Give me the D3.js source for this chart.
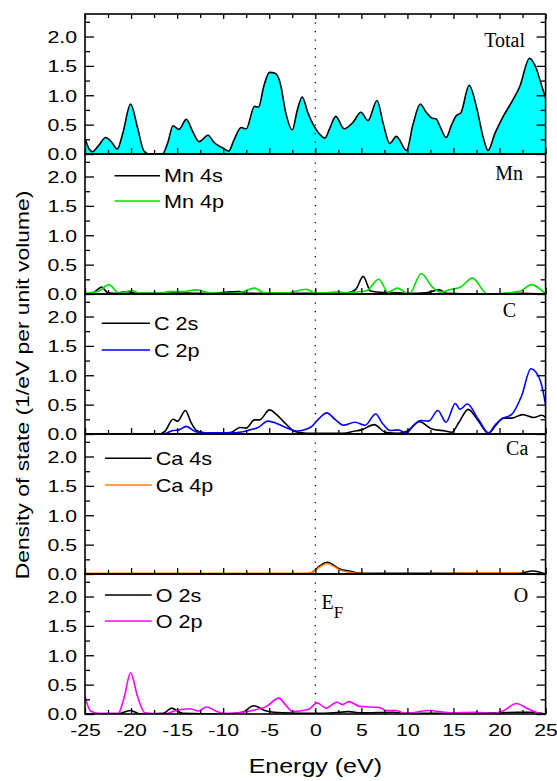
<!DOCTYPE html>
<html>
<head>
<meta charset="utf-8">
<script src="https://cdn.jsdelivr.net/npm/d3@7"></script>
<style>
  body { margin: 0; background: #fff; }
  svg { display: block; }
</style>
</head>
<body>
<svg id="chart" width="557" height="781"></svg>
<script>
// ---- tick values ----
const energyTicks = [-25, -20, -15, -10, -5, 0, 5, 10, 15, 20, 25];
const energyMinorTicks = [-22.5, -17.5, -12.5, -7.5, -2.5, 2.5, 7.5, 12.5, 17.5, 22.5];
const dosTicks = [0, 0.5, 1.0, 1.5, 2.0];
const dosMinorTicks = [0.25, 0.75, 1.25, 1.75, 2.25];

// ---- density of states, [energy (eV), DOS] ----
const totalDos = [[-25,0.27],[-24.6,0.1],[-24.2,0.04],[-23.5,0.15],[-22.75,0.28],[-22.1,0.2],[-21.5,0.085],
  [-20.9,0.35],[-20.05,0.85],[-19.3,0.45],[-18.6,0.05],[-18,0.0],[-16.6,0.0],[-16.0,0.2],[-15.45,0.48],
  [-14.8,0.42],[-14.0,0.59],[-13.3,0.38],[-12.6,0.21],[-11.65,0.32],[-11.0,0.2],[-10.6,0.15],[-10.0,0.1],
  [-9.4,0.05],[-8.8,0.25],[-8.05,0.45],[-7.5,0.43],[-6.6,0.81],[-6.15,0.80],[-5.6,1.15],[-4.97,1.39],
  [-4.3,1.37],[-3.8,1.2],[-3.2,0.7],[-2.5,0.41],[-1.95,0.75],[-1.42,0.97],[-0.8,0.7],[-0.22,0.5],
  [0.4,0.35],[1.03,0.27],[1.6,0.45],[2.22,0.64],[3.13,0.43],[4.1,0.54],[4.95,0.71],[5.73,0.57],
  [6.7,0.91],[7.4,0.5],[8.08,0.18],[8.8,0.30],[9.9,0.06],[10.6,0.5],[11.4,0.85],[12.0,0.72],[12.7,0.61],
  [13.1,0.6],[13.6,0.45],[14.2,0.28],[14.8,0.5],[15.3,0.65],[15.8,0.7],[16.7,1.17],[17.5,0.8],[18.2,0.3],
  [18.75,0.06],[19.5,0.35],[20.4,0.64],[21.3,0.88],[22.2,1.15],[23.26,1.63],[24.0,1.45],[24.5,1.2],[25,0.95]];

const mn4s = [[-25,0],[-24,0.03],[-23.2,0.12],[-22.6,0.03],[-22,0.01],[-20.3,0.04],[-19.5,0.01],[-16,0.01],
  [-15.5,0.02],[-12,0.01],[-8.2,0.04],[-7.5,0.01],[0,0.01],[2.25,0.03],[3.5,0.02],[4.4,0.08],[5.2,0.30],
  [6.0,0.05],[7,0.03],[9,0.02],[10,0.01],[12,0.02],[13.45,0.07],[14.3,0.01],[18,0.0],[22,0.01],[25,0.0]];
const mn4p = [[-25,0.01],[-23.5,0.05],[-22.4,0.16],[-21.3,0.01],[-19.9,0.06],[-19,0.01],[-17,0.01],[-15.8,0.04],
  [-14.5,0.04],[-12.9,0.07],[-11.5,0.02],[-9,0.01],[-8,0.03],[-6.6,0.10],[-5.5,0.02],[-3,0.02],[-1.0,0.08],
  [0,0.02],[3,0.02],[5.5,0.05],[6.9,0.25],[7.9,0.03],[8.9,0.10],[10.2,0.0],[11.5,0.35],[12.7,0.12],
  [13.6,0.03],[14.5,0.07],[15.8,0.12],[17.05,0.27],[18.7,0.0],[21,0.02],[22.3,0.05],[23.45,0.16],[25,0.0]];

const c2s = [[-25,0],[-17,0],[-16.3,0.05],[-15.45,0.25],[-14.95,0.22],[-14.1,0.40],[-13.5,0.2],[-12.9,0.06],
  [-12,0.02],[-10,0.02],[-9.1,0.03],[-8.2,0.11],[-7.5,0.10],[-6.6,0.24],[-6.05,0.24],[-4.97,0.41],
  [-4.2,0.33],[-3.5,0.22],[-2.4,0.06],[-1.9,0.03],[0,0.01],[3,0.01],[4.3,0.05],[5.0,0.07],[6.4,0.16],
  [7.6,0.03],[9,0.01],[10,0.05],[11.3,0.21],[12.6,0.09],[14.1,0.05],[14.8,0.03],[15.6,0.2],[16.6,0.42],
  [17.7,0.22],[18.8,0.01],[19.6,0.15],[20.4,0.27],[21.3,0.27],[22.5,0.33],[23.7,0.28],[24.6,0.32],[25,0.28]];
const c2p = [[-25,0],[-17,0],[-16.3,0.01],[-15.45,0.06],[-14.8,0.07],[-14.0,0.13],[-13.0,0.04],[-12,0.02],
  [-9.2,0.02],[-8.2,0.03],[-7.1,0.07],[-6.2,0.11],[-5.15,0.22],[-4.2,0.18],[-3.2,0.11],[-1.9,0.05],
  [-1.0,0.08],[-0.38,0.13],[0.27,0.24],[1.25,0.36],[2.2,0.24],[3.05,0.15],[4.3,0.2],[5.4,0.15],[6.56,0.34],
  [7.3,0.18],[8.1,0.06],[8.95,0.07],[9.9,0.02],[10.7,0.15],[11.4,0.23],[12.3,0.22],[13.3,0.40],[14.2,0.2],
  [15.2,0.52],[15.7,0.42],[16.5,0.51],[17.7,0.25],[18.8,0.02],[19.6,0.17],[20.4,0.27],[21.3,0.33],
  [22.4,0.65],[23.4,1.11],[24.4,0.92],[25,0.5]];

const ca4s = [[-25,0],[-1,0.0],[-0.3,0.03],[0.5,0.14],[1.3,0.20],[2.0,0.15],[2.6,0.09],[3.7,0.05],[4.6,0.02],
  [6,0.01],[22,0.01],[23.6,0.05],[24.4,0.03],[25,0.0]];
const ca4p = [[-25,0.01],[-5,0.01],[-1,0.01],[-0.3,0.03],[0.5,0.12],[1.3,0.18],[2.0,0.13],[2.6,0.07],
  [3.7,0.03],[4.6,0.01],[10,0.0],[15,0.01],[20,0.02],[22,0.02],[23,0.0],[25,0.0]];

const o2s = [[-25,0.0],[-21.5,0.0],[-20.05,0.06],[-19,0.0],[-16.5,0.01],[-15.6,0.1],[-14.4,0.01],[-10,0.0],
  [-7.9,0.03],[-6.7,0.14],[-5.3,0.05],[-3.5,0.02],[0,0.01],[2,0.02],[3.6,0.04],[5,0.02],[8.5,0.03],
  [10,0.01],[15,0.01],[20,0.02],[22,0.03],[23.5,0.03],[25,0.0]];
const o2p = [[-25,0.30],[-24.4,0.05],[-23.5,0.01],[-21.4,0.01],[-20.8,0.25],[-20.05,0.70],[-19.3,0.3],
  [-18.5,0.02],[-16.3,0.0],[-15.1,0.06],[-13.6,0.09],[-12.7,0.05],[-11.8,0.12],[-10.8,0.05],[-9.7,0.01],
  [-7.9,0.03],[-6.8,0.06],[-5.3,0.13],[-3.96,0.27],[-3.2,0.15],[-2.45,0.04],[-1.4,0.06],[-0.7,0.08],
  [0.2,0.19],[1.17,0.1],[2.33,0.2],[2.97,0.16],[3.63,0.21],[4.8,0.13],[6.96,0.11],[7.7,0.06],[8.8,0.06],
  [9.7,0.01],[12.4,0.06],[14.5,0.02],[17.4,0.03],[19.2,0.01],[20.5,0.06],[21.8,0.18],[23.2,0.08],[24.8,0.0],[25,0.0]];

// ---- panels (top to bottom) ----
const panels = [
  { label: "Total", series: [ { name: "Total", data: totalDos, color: "#000000", fill: "#00FFFF" } ], legend: false },
  { label: "Mn", series: [ { name: "Mn 4s", data: mn4s, color: "#000000" }, { name: "Mn 4p", data: mn4p, color: "#00e000" } ], legend: true },
  { label: "C",  series: [ { name: "C 2s",  data: c2s,  color: "#000000" }, { name: "C 2p",  data: c2p,  color: "#0000ff" } ], legend: true },
  { label: "Ca", series: [ { name: "Ca 4s", data: ca4s, color: "#000000" }, { name: "Ca 4p", data: ca4p, color: "#ff8000" } ], legend: true },
  { label: "O",  series: [ { name: "O 2s",  data: o2s,  color: "#000000" }, { name: "O 2p",  data: o2p,  color: "#ff00ff" } ], legend: true }
];

// ---- layout ----
const plotLeft = 85, plotRight = 545.6, plotTop = 14, panelH = 140, yMax = 2.383;
const labelPos = [ [525, 47.3], [523, 180], [516, 316.7], [528.3, 455], [528.3, 602.3] ];   // end-anchored, panel-name text
const legendPos = [ null, [114.5, 160, 175.7, 25.3], [101.7, 150, 323.3, 26.7], [105, 151.7, 458.3, 26.7], [105, 151.7, 595, 26] ];
const sansFont = "'Liberation Sans', Arial, sans-serif";
const serifFont = "'Liberation Serif', 'Times New Roman', serif";
const sansStretch = 1.33;

const svg = d3.select("#chart");
const x = d3.scaleLinear().domain([-25, 25]).range([plotLeft, plotRight]);
const line = (y) => d3.line().x(d => x(d[0])).y(d => y(d[1])).curve(d3.curveMonotoneX);

panels.forEach((p, i) => {
  const top = plotTop + i * panelH, bottom = top + panelH;
  const y = d3.scaleLinear().domain([0, yMax]).range([bottom, top]);
  const g = svg.append("g").attr("class", "panel");

  const clipId = "clip" + i;
  svg.append("clipPath").attr("id", clipId).append("rect")
    .attr("x", plotLeft).attr("y", top).attr("width", plotRight - plotLeft).attr("height", panelH);

  const data = g.append("g").attr("clip-path", `url(#${clipId})`);
  p.series.forEach(s => {
    if (s.fill) {
      data.append("path").datum(s.data)
        .attr("d", d3.area().x(d => x(d[0])).y0(y(0)).y1(d => y(d[1])).curve(d3.curveMonotoneX))
        .attr("fill", s.fill);
    }
  });
  // Fermi level
  data.append("line").attr("x1", x(0)).attr("x2", x(0)).attr("y1", top).attr("y2", bottom)
    .attr("stroke", "#000").attr("stroke-width", 1.3).attr("stroke-dasharray", "1.3,7.2");
  p.series.forEach(s => {
    data.append("path").datum(s.data).attr("d", line(y)).attr("fill", "none")
      .attr("stroke", s.color).attr("stroke-width", 1.6).attr("stroke-linejoin", "round");
  });

  // y axes (inward ticks on both sides)
  const yl = g.append("g").attr("transform", `translate(${plotLeft},0)`)
    .call(d3.axisLeft(y).tickValues(dosTicks).tickSize(-9).tickSizeOuter(0).tickFormat(d3.format(".1f")));
  g.append("g").attr("transform", `translate(${plotLeft},0)`)
    .call(d3.axisLeft(y).tickValues(dosMinorTicks).tickSize(-5).tickSizeOuter(0).tickFormat(""));
  g.append("g").attr("transform", `translate(${plotRight},0)`)
    .call(d3.axisRight(y).tickValues(dosTicks).tickSize(-9).tickSizeOuter(0).tickFormat(""));
  g.append("g").attr("transform", `translate(${plotRight},0)`)
    .call(d3.axisRight(y).tickValues(dosMinorTicks).tickSize(-5).tickSizeOuter(0).tickFormat(""));
  yl.selectAll(".tick text")
    .attr("x", 0).attr("dy", "0.36em")
    .attr("transform", `translate(-8,0) scale(${sansStretch},1)`)
    .attr("text-anchor", "end");

  // x axis at the panel bottom (ticks point up)
  const xb = g.append("g").attr("transform", `translate(0,${bottom})`)
    .call(d3.axisBottom(x).tickValues(energyTicks).tickSize(-6).tickSizeOuter(0)
      .tickFormat(i === panels.length - 1 ? (d => String(d)) : ""));
  g.append("g").attr("transform", `translate(0,${bottom})`)
    .call(d3.axisBottom(x).tickValues(energyMinorTicks).tickSize(-4).tickSizeOuter(0).tickFormat(""));
  xb.selectAll(".tick text")
    .attr("y", 0).attr("dy", null)
    .attr("transform", `translate(0,21.7) scale(${sansStretch},1)`);
  if (i === 0) {
    g.append("g").attr("transform", `translate(0,${top})`)
      .call(d3.axisTop(x).tickValues(energyTicks).tickSize(-5).tickSizeOuter(0).tickFormat(""));
    g.append("g").attr("transform", `translate(0,${top})`)
      .call(d3.axisTop(x).tickValues(energyMinorTicks).tickSize(-4).tickSizeOuter(0).tickFormat(""));
  }
  g.selectAll(".domain").remove();
  g.selectAll(".tick line").attr("stroke", "#000").attr("stroke-width", 1.3);
  g.selectAll(".tick text").attr("font-family", sansFont).attr("font-size", 16).attr("fill", "#000");

  // frame
  g.append("rect").attr("x", plotLeft).attr("y", top).attr("width", plotRight - plotLeft).attr("height", panelH)
    .attr("fill", "none").attr("stroke", "#000").attr("stroke-width", 1.6);

  // panel name
  g.append("text").attr("x", labelPos[i][0]).attr("y", labelPos[i][1])
    .attr("text-anchor", "end").attr("font-family", serifFont).attr("font-size", 20).text(p.label);

  // legend
  if (p.legend) {
    const [lx0, lx1, ly, step] = legendPos[i];
    p.series.forEach((s, k) => {
      const yy = ly + k * step;
      g.append("line").attr("x1", lx0).attr("x2", lx1).attr("y1", yy).attr("y2", yy)
        .attr("stroke", s.color).attr("stroke-width", 1.6);
      g.append("text").attr("transform", `translate(${lx1 + 4},${yy + 6.5}) scale(1.2,1)`)
        .attr("font-family", sansFont).attr("font-size", 18).text(s.name);
    });
  }
});

// Fermi level marker
const ef = svg.append("text").attr("x", 321.5).attr("y", 609)
  .attr("font-family", serifFont).attr("font-size", 20);
ef.append("tspan").text("E");
ef.append("tspan").attr("font-size", 17).attr("dy", 8.5).text("F");

// axis titles
svg.append("text").attr("transform", `translate(315.3,773) scale(1.19,1)`)
  .attr("text-anchor", "middle").attr("font-family", sansFont).attr("font-size", 21).text("Energy (eV)");
svg.append("text").attr("transform", `translate(28.5,385) rotate(-90) scale(1.27,1)`)
  .attr("text-anchor", "middle").attr("font-family", sansFont).attr("font-size", 18)
  .text("Density of state (1/eV per unit volume)");
</script>
</body>
</html>
